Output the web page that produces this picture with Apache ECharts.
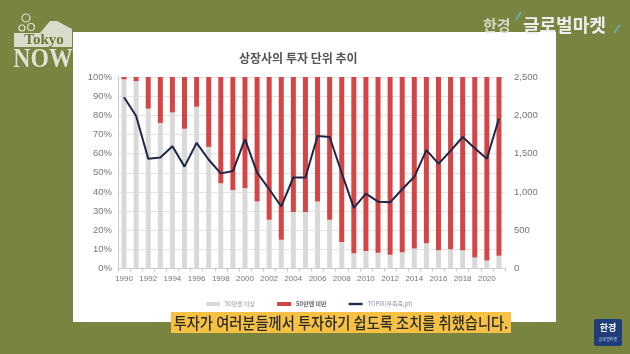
<!DOCTYPE html>
<html>
<head>
<meta charset="utf-8">
<script src="https://cdn.jsdelivr.net/npm/echarts@6/dist/echarts.min.js"></script>
<style>
  html, body { margin: 0; padding: 0; background: #78843f; }
  #main { width: 630px; height: 354px; }
</style>
</head>
<body>
<div id="main"></div>
<script>
  // years on the x axis
  var years = ['1990','1991','1992','1993','1994','1995','1996','1997','1998','1999',
               '2000','2001','2002','2003','2004','2005','2006','2007','2008','2009',
               '2010','2011','2012','2013','2014','2015','2016','2017','2018','2019',
               '2020','2021'];
  // share of listed companies with investment unit >= 500k yen (%)
  var over50 = [98.8, 97.8, 83.5, 76, 81.5, 73, 84.5, 63.5, 44.5, 41,
                42, 35, 25.5, 15, 29.5, 29.5, 35, 25.5, 13.8, 8,
                9.2, 8.2, 7.2, 8.5, 10.5, 13.2, 9.5, 10.1, 9.5, 5.7,
                4.2, 6.6];
  // share below 500k yen (%)
  var under50 = [1.2, 2.2, 16.5, 24, 18.5, 27, 15.5, 36.5, 55.5, 59,
                 58, 65, 74.5, 85, 70.5, 70.5, 65, 74.5, 86.2, 92,
                 90.8, 91.8, 92.8, 91.5, 89.5, 86.8, 90.5, 89.9, 90.5, 94.3,
                 95.8, 93.4];
  // TOPIX (right axis, pt)
  var topix = [2235, 1990, 1432, 1450, 1597, 1330, 1640, 1420, 1242, 1272,
               1690, 1252, 1035, 810, 1188, 1188, 1730, 1717, 1246, 792,
               978, 872, 864, 1035, 1197, 1546, 1368, 1536, 1717, 1571,
               1432, 1958];

  var numFont = 'Liberation Sans, Arial, sans-serif';
  var krFont = 'Noto Sans CJK KR, sans-serif';

  var chart = echarts.init(document.getElementById('main'));
  chart.setOption({
    backgroundColor: '#78843f',
    animation: false,
    title: {
      text: '상장사의 투자 단위 추이',
      left: 234,
      top: 47,
      textStyle: { fontFamily: krFont, fontSize: 12, fontWeight: 'bold', color: '#555' }
    },
    legend: {
      left: 201,
      top: 296,
      itemWidth: 14,
      itemHeight: 4,
      itemGap: 22,
      textStyle: { fontFamily: krFont, fontSize: 6, color: '#999' },
      data: [
        { name: '50만엔 이상', icon: 'rect' },
        { name: '50만엔 미만', icon: 'rect', textStyle: { color: '#666', fontWeight: 'bold' } },
        { name: 'TOPIX(우측축,pt)', icon: 'path://M0,0 H12 V2 H0 Z', textStyle: { color: '#8a90a8' } }
      ]
    },
    grid: { left: 118, right: 125, top: 77, bottom: 85.5 },
    xAxis: {
      type: 'category',
      data: years,
      axisLine: { lineStyle: { color: '#c8c8c8' } },
      axisTick: { show: true, length: 3, interval: 0, lineStyle: { color: '#c8c8c8' } },
      axisLabel: { interval: 1, fontFamily: numFont, fontSize: 8, color: '#777', margin: 6 }
    },
    yAxis: [
      {
        type: 'value', min: 0, max: 100, interval: 10,
        axisLine: { show: true, lineStyle: { color: '#c8c8c8' } },
        axisTick: { show: false },
        splitLine: { lineStyle: { color: '#e4e4e4' } },
        axisLabel: { formatter: '{value}%', fontFamily: numFont, fontSize: 9.5, color: '#777', margin: 6 }
      },
      {
        type: 'value', min: 0, max: 2500, interval: 500,
        axisLine: { show: false },
        axisTick: { show: false },
        splitLine: { show: false },
        axisLabel: {
          formatter: function (v) { return v.toLocaleString('en-US'); },
          fontFamily: numFont, fontSize: 9.5, color: '#777', margin: 9
        }
      }
    ],
    series: [
      {
        name: '50만엔 이상', type: 'bar', stack: 'share', barWidth: 5,
        itemStyle: { color: '#d9d9d9' },
        data: over50
      },
      {
        name: '50만엔 미만', type: 'bar', stack: 'share', barWidth: 5,
        itemStyle: { color: '#d44645' },
        data: under50
      },
      {
        name: 'TOPIX(우측축,pt)', type: 'line', yAxisIndex: 1,
        symbol: 'none', z: 5,
        itemStyle: { color: '#1f2748' },
        lineStyle: { color: '#1f2748', width: 2 },
        data: topix
      }
    ],
    graphic: [
      // white panel
      { type: 'rect', z: -10, shape: { x: 73, y: 32, width: 483, height: 290 }, style: { fill: '#ffffff' } },
      // subtitle
      { type: 'rect', z: 100, shape: { x: 171, y: 312, width: 340, height: 21 }, style: { fill: '#f7c244' } },
      { type: 'text', z: 101, x: 341, y: 323, scaleX: 0.89,
        style: { text: '투자가 여러분들께서 투자하기 쉽도록 조치를 취했습니다.', fill: '#2b2b2b',
                 font: '500 16px "Noto Sans CJK KR"', textAlign: 'center', textVerticalAlign: 'middle' } },
      // top right logo
      { type: 'text', z: 100, x: 483, y: 25,
        style: { text: '한경', fill: '#d6d8c4', font: 'bold 15px "Noto Sans CJK KR"', textVerticalAlign: 'middle' } },
      { type: 'line', z: 100, shape: { x1: 516, y1: 20, x2: 521, y2: 12 }, style: { stroke: '#5fb3a4', lineWidth: 2 } },
      { type: 'text', z: 100, x: 523, y: 25,
        style: { text: '글로벌마켓', fill: '#eeeeee', font: 'bold 18px "Noto Sans CJK KR"', textVerticalAlign: 'middle' } },
      { type: 'line', z: 100, shape: { x1: 614, y1: 33, x2: 620, y2: 25 }, style: { stroke: '#5fb3a4', lineWidth: 2 } },
      // top left logo
      { type: 'polygon', z: 100, shape: { points: [[40, 33], [50, 21], [57, 21], [72, 29], [72, 33]] }, style: { fill: '#d8dccb' } },
      { type: 'rect', z: 100, shape: { x: 14, y: 33, width: 58, height: 14 }, style: { fill: '#d8dccb' } },
      { type: 'text', z: 101, x: 44, y: 40,
        style: { text: 'Tokyo', fill: '#6c7638', font: 'bold 15px "Liberation Serif"', textAlign: 'center', textVerticalAlign: 'middle' } },
      { type: 'text', z: 101, x: 43, y: 60, scaleX: 0.85,
        style: { text: 'NOW', fill: '#dfe2d4', font: 'bold 28px "Liberation Serif"', textAlign: 'center', textVerticalAlign: 'middle' } },
      { type: 'circle', z: 100, shape: { cx: 26, cy: 18, r: 4 }, style: { fill: 'none', stroke: '#dfe2d4', lineWidth: 1.2 } },
      { type: 'circle', z: 100, shape: { cx: 22, cy: 28, r: 3 }, style: { fill: 'none', stroke: '#dfe2d4', lineWidth: 1.2 } },
      { type: 'circle', z: 100, shape: { cx: 31, cy: 27, r: 3.5 }, style: { fill: 'none', stroke: '#dfe2d4', lineWidth: 1.2 } },
      // bottom right logo
      { type: 'rect', z: 100, shape: { x: 594, y: 319, width: 28, height: 27, r: 2 }, style: { fill: '#1f3d7a' } },
      { type: 'text', z: 101, x: 608, y: 328,
        style: { text: '한경', fill: '#ffffff', font: 'bold 9px "Noto Sans CJK KR"', textAlign: 'center', textVerticalAlign: 'middle' } },
      { type: 'text', z: 101, x: 608, y: 339,
        style: { text: '글로벌마켓', fill: '#c8d4f0', font: '4px "Noto Sans CJK KR"', textAlign: 'center', textVerticalAlign: 'middle' } }
    ]
  });
</script>
</body>
</html>
